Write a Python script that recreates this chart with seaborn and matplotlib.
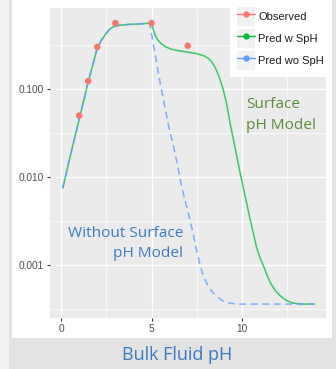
import numpy as np
import pandas as pd
import matplotlib
matplotlib.use("Agg")
import matplotlib.pyplot as plt
import seaborn as sns
from matplotlib.lines import Line2D
from matplotlib.patches import Rectangle
from matplotlib.legend_handler import HandlerLine2D
from matplotlib.ticker import FixedLocator, NullFormatter

# ---------------- data ----------------
obs_ph = [1.0, 1.5, 2.0, 3.0, 5.0, 7.0]
obs_val = [0.050, 0.123, 0.30, 0.56, 0.56, 0.31]

w_ph = [0.1, 0.5, 1.0, 1.5, 2.0, 2.2, 2.5, 2.7, 2.9, 3.1, 3.4, 4.0, 4.5, 4.9,
        5.0, 5.1, 5.2, 5.35, 5.55, 5.8, 6.1, 6.5, 7.0, 7.5, 7.9, 8.15, 8.35, 8.55,
        8.75, 8.95, 9.15, 9.35, 9.9, 10.45, 10.8, 11.0, 11.2, 11.4, 11.6, 11.85,
        12.1, 12.4, 12.8, 13.3, 14.0]
w_val = [0.0075, 0.017, 0.045, 0.12, 0.29, 0.35, 0.43, 0.48, 0.51, 0.525, 0.535,
         0.545, 0.55, 0.56, 0.55, 0.47, 0.41, 0.36, 0.325, 0.30, 0.283, 0.272, 0.262,
         0.252, 0.238, 0.222, 0.20, 0.17, 0.135, 0.10, 0.068, 0.040, 0.011, 0.0033,
         0.0016, 0.0012, 0.00096, 0.00075, 0.00061, 0.00051, 0.00045, 0.00040,
         0.00037, 0.00036, 0.00036]

wo_ph = [0.1, 0.5, 1.0, 1.5, 2.0, 2.2, 2.5, 2.7, 2.9, 3.1, 3.4, 4.0, 4.5, 4.9,
         5.14, 5.47, 5.93, 6.3, 6.67, 7.22, 7.45, 7.7, 7.85, 8.05, 8.3, 8.6, 8.95,
         9.3, 9.7, 14.0]
wo_val = [0.0075, 0.017, 0.045, 0.12, 0.29, 0.35, 0.43, 0.48, 0.51, 0.525, 0.535,
          0.545, 0.55, 0.56, 0.29, 0.12, 0.039, 0.0186, 0.0077, 0.0027, 0.0016,
          0.00096, 0.00077, 0.00062, 0.00051, 0.00044, 0.00039, 0.00037, 0.00036,
          0.00036]

series_names = ["Observed", "Pred w SpH", "Pred wo SpH"]
x_ticks = [0, 5, 10]
x_ticklabels = ["0", "5", "10"]
y_ticks = [0.001, 0.01, 0.1]
y_ticklabels = ["0.001", "0.010", "0.100"]
x_label = "Bulk Fluid pH"

# ---------------- style ----------------
RED, GREEN, BLUE = "#F8766D", "#00BA38", "#619CFF"
sns.set_theme(style="darkgrid", rc={
    "axes.facecolor": "#EBEBEB",
    "grid.color": "white",
    "axes.edgecolor": "none",
})
plt.rcParams["font.family"] = ["Liberation Sans", "DejaVu Sans"]

W, H = 336, 369
fig = plt.figure(figsize=(W / 100, H / 100), dpi=100)
fig.patch.set_facecolor("#F1F1F1")
# background panels of the slide
fig.patches.append(Rectangle((9 / W, 0), 1 - 9 / W, 1, transform=fig.transFigure,
                             facecolor="#E3E3E3", edgecolor="none", zorder=-10))
fig.patches.append(Rectangle((12 / W, 1 - 338 / H), (332 - 12) / W, 338 / H,
                             transform=fig.transFigure, facecolor="white",
                             edgecolor="none", zorder=-9))

ax = fig.add_axes([50 / W, 1 - 318 / H, (326 - 50) / W, (318 - 8) / H])

df_w = pd.DataFrame({"ph": w_ph, "val": w_val})
df_wo = pd.DataFrame({"ph": wo_ph, "val": wo_val})
df_obs = pd.DataFrame({"ph": obs_ph, "val": obs_val})

sns.lineplot(data=df_w, x="ph", y="val", ax=ax, color=GREEN, lw=1.1, alpha=0.75,
             estimator=None, sort=False)
sns.lineplot(data=df_wo, x="ph", y="val", ax=ax, color=BLUE, lw=1.1, alpha=0.8,
             estimator=None, sort=False)
ax.lines[-1].set_dashes([4.5, 3])
for ln in ax.lines:
    ln.set_solid_joinstyle("round")
    ln.set_dash_joinstyle("round")
sns.scatterplot(data=df_obs, x="ph", y="val", ax=ax, color=RED, s=22,
                edgecolor="none", zorder=5)

ax.set_yscale("log")
ax.set_xlim(-0.61, 14.64)
ax.set_ylim(10 ** -3.602, 10 ** -0.08)

ax.xaxis.set_major_locator(FixedLocator(x_ticks))
ax.set_xticklabels(x_ticklabels)
ax.xaxis.set_minor_locator(FixedLocator([2.5, 7.5, 12.5]))
ax.yaxis.set_major_locator(FixedLocator(y_ticks))
ax.set_yticklabels(y_ticklabels)
ax.yaxis.set_minor_locator(FixedLocator([10 ** -3.5, 10 ** -2.5, 10 ** -1.5, 10 ** -0.5]))
ax.yaxis.set_minor_formatter(NullFormatter())
ax.xaxis.set_minor_formatter(NullFormatter())

ax.grid(which="major", color="white", lw=1.0)
ax.grid(which="minor", color="white", lw=0.5)
ax.tick_params(which="major", length=2.5, width=0.8, color="#333333",
               labelsize=7.3, labelcolor="#4D4D4D", pad=2, direction="out",
               bottom=True, left=True)
ax.tick_params(which="minor", length=0)
ax.set_xlabel("")
ax.set_ylabel("")


# ---------------- legend ----------------
class KeyHandler(HandlerLine2D):
    def create_artists(self, legend, orig_handle, xdescent, ydescent, width,
                       height, fontsize, trans):
        rect = Rectangle((-xdescent, -ydescent), width, height,
                         facecolor="#F2F2F2", edgecolor="none", transform=trans)
        arts = super().create_artists(legend, orig_handle, xdescent, ydescent,
                                      width, height, fontsize, trans)
        return [rect] + list(arts)


handles = [Line2D([], [], color=c, marker="o", markersize=3.5, lw=1.0)
           for c in (RED, GREEN, BLUE)]
leg = fig.legend(handles, series_names, loc="upper right",
                 bbox_to_anchor=(331 / W, 1.0), fontsize=8.0, frameon=True,
                 facecolor="white", edgecolor="none", fancybox=False, framealpha=1,
                 borderpad=0.65, handlelength=1.6, handleheight=2.2,
                 labelspacing=0.3, handletextpad=0.25, borderaxespad=0,
                 numpoints=1, handler_map={Line2D: KeyHandler()})
leg.set_zorder(6)
for t in leg.get_texts():
    t.set_color("#1A1A1A")

# ---------------- annotations ----------------
ann_font = ["Open Sans", "DejaVu Sans"]
GTXT, BTXT = "#5B8A3A", "#3A7BC0"
fig.text(246 / W, 1 - 108 / H, "Surface", color=GTXT, fontsize=11.1,
         family=ann_font, ha="left", va="baseline")
fig.text(246 / W, 1 - 129 / H, "pH Model", color=GTXT, fontsize=11.1,
         family=ann_font, ha="left", va="baseline")
fig.text(183 / W, 1 - 236.7 / H, "Without Surface", color=BTXT, fontsize=11.1,
         family=ann_font, ha="right", va="baseline")
fig.text(183 / W, 1 - 256.7 / H, "pH Model", color=BTXT, fontsize=11.1,
         family=ann_font, ha="right", va="baseline")
fig.text(177.5 / W, 1 - 360 / H, x_label, color=BTXT, fontsize=13,
         family=ann_font, ha="center", va="baseline")

fig.savefig("out.png", dpi=100, facecolor=fig.get_facecolor())
